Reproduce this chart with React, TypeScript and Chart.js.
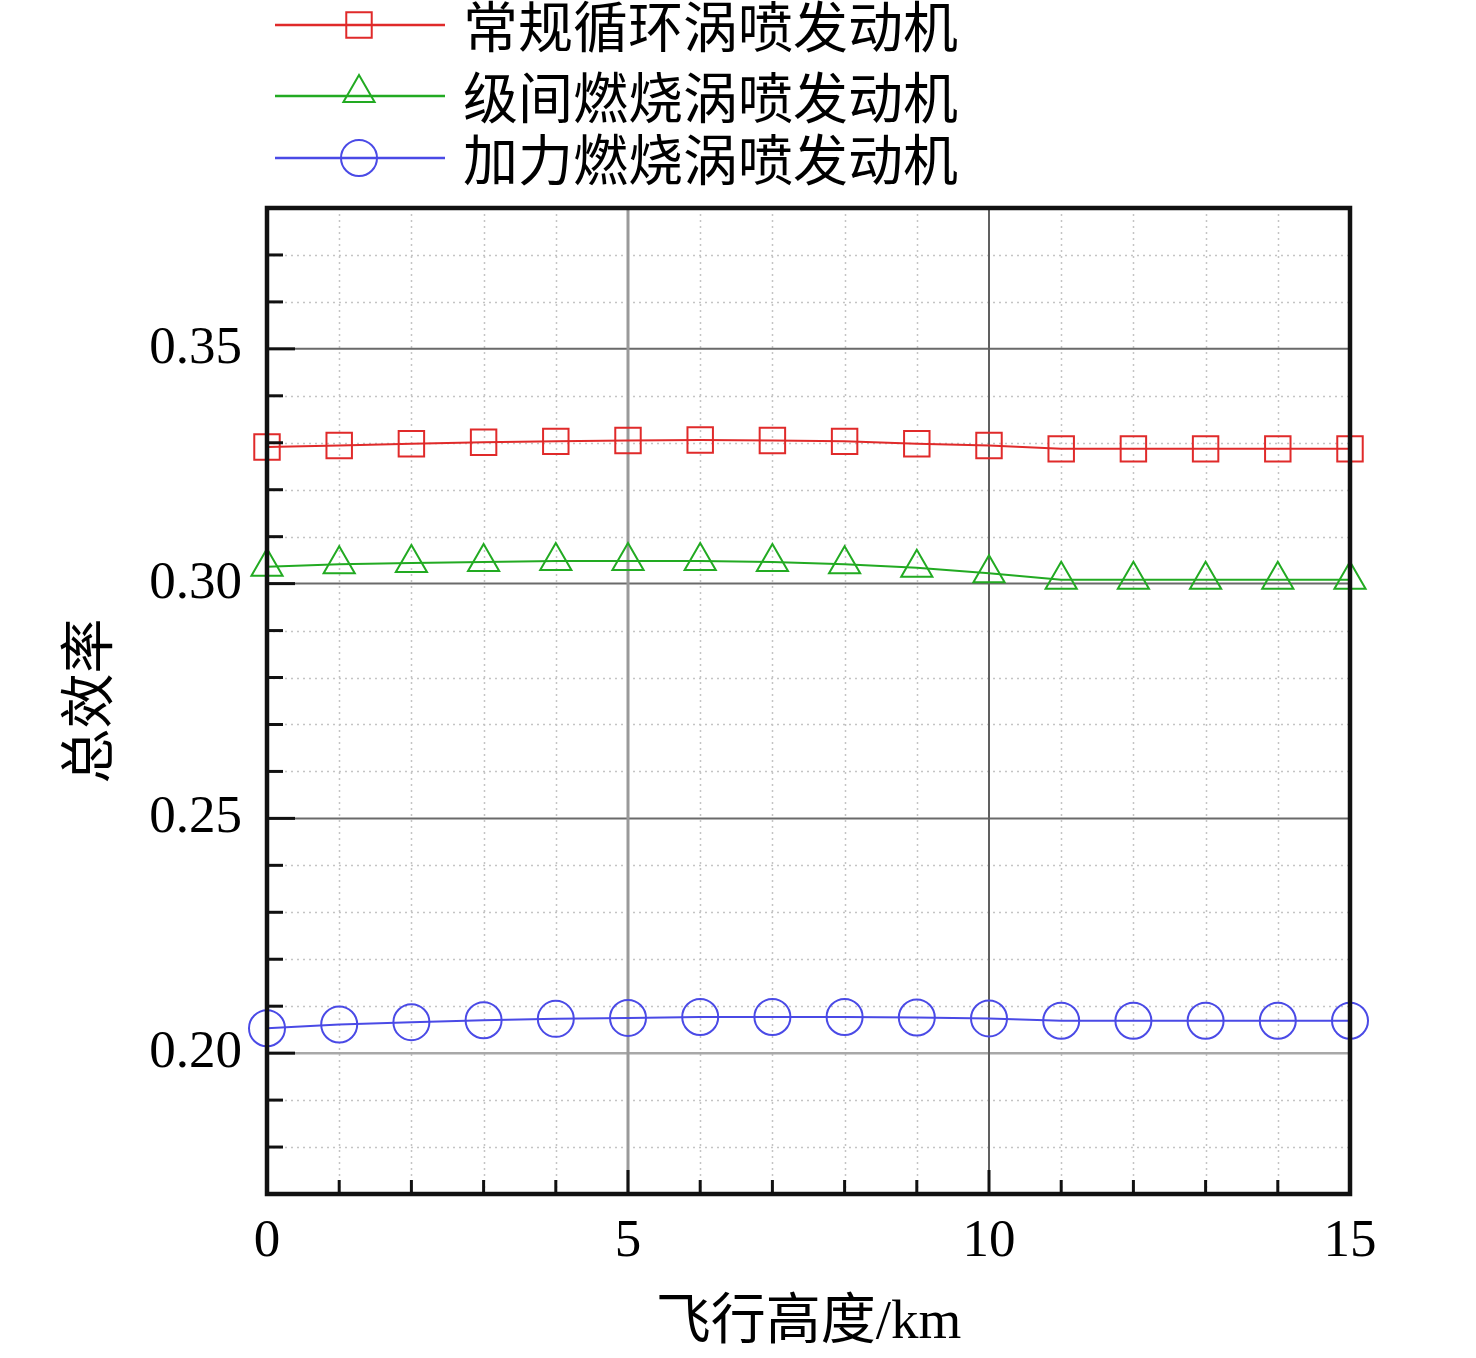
import React, { useEffect, useRef } from "react";
import { Chart, registerables } from "chart.js";

Chart.register(...registerables);

const altitudes = [0, 1, 2, 3, 4, 5, 6, 7, 8, 9, 10, 11, 12, 13, 14, 15];
const conventional = [0.3291, 0.3294, 0.3298, 0.3301, 0.3303, 0.3305, 0.3306, 0.3305, 0.3303, 0.3298, 0.3294, 0.3287, 0.3287, 0.3287, 0.3287, 0.3287];
const interstage = [0.3036, 0.3041, 0.3044, 0.3046, 0.3048, 0.3048, 0.3048, 0.3046, 0.3041, 0.3034, 0.3022, 0.3008, 0.3008, 0.3008, 0.3008, 0.3008];
const afterburner = [0.2053, 0.2061, 0.2066, 0.2070, 0.2073, 0.2075, 0.2077, 0.2077, 0.2077, 0.2076, 0.2074, 0.2069, 0.2069, 0.2069, 0.2069, 0.2069];

const seriesLabels = ["常规循环涡喷发动机", "级间燃烧涡喷发动机", "加力燃烧涡喷发动机"];
const xMajorTicks = [0, 5, 10, 15];
const yMajorTicks = [0.2, 0.25, 0.3, 0.35];
const xTitle = "飞行高度/km";
const yTitle = "总效率";

const RED = "#e02a2a";
const GREEN = "#22aa22";
const BLUE = "#4a4ae6";

const SERIF = '"Liberation Serif", "Times New Roman", "Noto Sans CJK SC", serif';

function drawMarker(ctx: CanvasRenderingContext2D, style: string, x: number, y: number, r: number) {
  ctx.beginPath();
  if (style === "rect") {
    const s = Math.SQRT1_2 * r;
    ctx.rect(x - s, y - s, 2 * s, 2 * s);
  } else if (style === "triangle") {
    let rad = 0;
    ctx.moveTo(x + Math.sin(rad) * r, y - Math.cos(rad) * r);
    rad += (2 * Math.PI) / 3;
    ctx.lineTo(x + Math.sin(rad) * r, y - Math.cos(rad) * r);
    rad += (2 * Math.PI) / 3;
    ctx.lineTo(x + Math.sin(rad) * r, y - Math.cos(rad) * r);
    ctx.closePath();
  } else {
    ctx.arc(x, y, r, 0, Math.PI * 2);
  }
  ctx.stroke();
}

const gridPlugin = {
  id: "customGrid",
  beforeDatasetsDraw(chart: any) {
    const { ctx, chartArea, scales } = chart;
    const { left, right, top, bottom } = chartArea;
    const x = scales.x;
    const y = scales.y;
    ctx.save();
    ctx.strokeStyle = "#c4c4c4";
    ctx.lineWidth = 1.5;
    ctx.setLineDash([2, 4]);
    for (let v = 0; v <= 15; v += 1) {
      if (xMajorTicks.includes(v)) continue;
      const px = Math.round(x.getPixelForValue(v)) + 0.5;
      ctx.beginPath();
      ctx.moveTo(px, top);
      ctx.lineTo(px, bottom);
      ctx.stroke();
    }
    for (let i = 17; i <= 38; i++) {
      if (i % 5 === 0) continue;
      const py = Math.round(y.getPixelForValue(i / 100)) + 0.5;
      ctx.beginPath();
      ctx.moveTo(left, py);
      ctx.lineTo(right, py);
      ctx.stroke();
    }
    ctx.setLineDash([]);
    for (const v of yMajorTicks) {
      const py = y.getPixelForValue(v);
      ctx.strokeStyle = v === 0.2 ? "#a8a8a8" : "#6a6a6a";
      ctx.lineWidth = v === 0.2 ? 2.5 : 2;
      ctx.beginPath();
      ctx.moveTo(left, py);
      ctx.lineTo(right, py);
      ctx.stroke();
    }
    for (const v of xMajorTicks) {
      if (v === 0 || v === 15) continue;
      const px = x.getPixelForValue(v);
      ctx.strokeStyle = v === 5 ? "#9a9a9a" : "#606060";
      ctx.lineWidth = v === 5 ? 3 : 2;
      ctx.beginPath();
      ctx.moveTo(px, top);
      ctx.lineTo(px, bottom);
      ctx.stroke();
    }
    ctx.restore();
  },
  afterDatasetsDraw(chart: any) {
    const { ctx, chartArea, scales } = chart;
    const { left, right, top, bottom } = chartArea;
    const x = scales.x;
    const y = scales.y;
    ctx.save();
    ctx.strokeStyle = "#111";
    ctx.lineWidth = 3;
    for (let i = 17; i <= 38; i++) {
      const py = y.getPixelForValue(i / 100);
      const len = i % 5 === 0 ? 28 : 16;
      ctx.beginPath();
      ctx.moveTo(left, py);
      ctx.lineTo(left + len, py);
      ctx.stroke();
    }
    for (let v = 0; v <= 15; v++) {
      const px = x.getPixelForValue(v);
      const len = v % 5 === 0 ? 24 : 14;
      ctx.beginPath();
      ctx.moveTo(px, bottom);
      ctx.lineTo(px, bottom - len);
      ctx.stroke();
    }
    ctx.lineWidth = 4.5;
    ctx.strokeStyle = "#111";
    ctx.strokeRect(left, top, right - left, bottom - top);
    ctx.restore();
  },
  afterDraw(chart: any) {
    const { ctx } = chart;
    const rows = [25, 96, 158];
    ctx.save();
    chart.data.datasets.forEach((ds: any, i: number) => {
      const yy = rows[i];
      ctx.strokeStyle = ds.borderColor;
      ctx.lineWidth = 2.5;
      ctx.beginPath();
      ctx.moveTo(275, yy);
      ctx.lineTo(445, yy);
      ctx.stroke();
      ctx.lineWidth = 2;
      const cy = ds.pointStyle === "triangle" ? yy - 3 : yy;
      drawMarker(ctx, ds.pointStyle, 359, cy, 18);
      ctx.fillStyle = "#000";
      ctx.font = `55px ${SERIF}`;
      ctx.textAlign = "left";
      ctx.textBaseline = "middle";
      ctx.fillText(ds.label, 463, yy + 8);
    });
    ctx.restore();
  },
};

export default function App() {
  const ref = useRef<HTMLCanvasElement | null>(null);
  useEffect(() => {
    document.body.style.margin = "0";
    const canvas = ref.current;
    if (!canvas) return;
    const mk = (label: string, data: number[], color: string, style: string) => ({
      label,
      data: altitudes.map((a, i) => ({ x: a, y: data[i] })),
      borderColor: color,
      backgroundColor: color,
      borderWidth: 2,
      pointStyle: style,
      pointRadius: 18,
      pointBorderWidth: 2,
      pointBorderColor: color,
      pointBackgroundColor: "rgba(0,0,0,0)",
      tension: 0,
      clip: false as any,
    });
    const chart = new Chart(canvas, {
      type: "line",
      data: {
        datasets: [
          mk(seriesLabels[0], conventional, RED, "rect"),
          mk(seriesLabels[1], interstage, GREEN, "triangle"),
          mk(seriesLabels[2], afterburner, BLUE, "circle"),
        ] as any,
      },
      options: {
        animation: false,
        responsive: false,
        devicePixelRatio: 1,
        layout: { padding: { left: 0, top: 208, right: 126, bottom: 0 } },
        plugins: { legend: { display: false }, tooltip: { enabled: false } },
        scales: {
          x: {
            type: "linear",
            min: 0,
            max: 15,
            grid: { display: false, drawTicks: false },
            border: { display: false },
            afterBuildTicks: (scale: any) => {
              scale.ticks = xMajorTicks.map((v) => ({ value: v }));
            },
            afterFit: (scale: any) => {
              scale.height = 164;
            },
            ticks: {
              padding: 16,
              color: "#000",
              font: { family: SERIF, size: 53 },
              maxRotation: 0,
              callback: (v: any) => String(v),
            },
            title: {
              display: true,
              text: xTitle,
              color: "#000",
              font: { family: SERIF, size: 55 },
              padding: { top: 0, bottom: 1 },
            },
          },
          y: {
            type: "linear",
            min: 0.17,
            max: 0.38,
            grid: { display: false, drawTicks: false },
            border: { display: false },
            afterBuildTicks: (scale: any) => {
              scale.ticks = yMajorTicks.map((v) => ({ value: v }));
            },
            afterFit: (scale: any) => {
              scale.width = 267;
            },
            ticks: {
              padding: 25,
              color: "#000",
              font: { family: SERIF, size: 53 },
              callback: (v: any) => Number(v).toFixed(2),
            },
            title: {
              display: true,
              text: yTitle,
              color: "#000",
              font: { family: SERIF, size: 55 },
              padding: { top: 60, bottom: 0 },
            },
          },
        },
      },
      plugins: [gridPlugin],
    });
    return () => chart.destroy();
  }, []);
  return (
    <div style={{ position: "absolute", left: 0, top: 0, width: 1476, height: 1358, background: "#fff" }}>
      <canvas ref={ref} width={1476} height={1358} />
    </div>
  );
}
